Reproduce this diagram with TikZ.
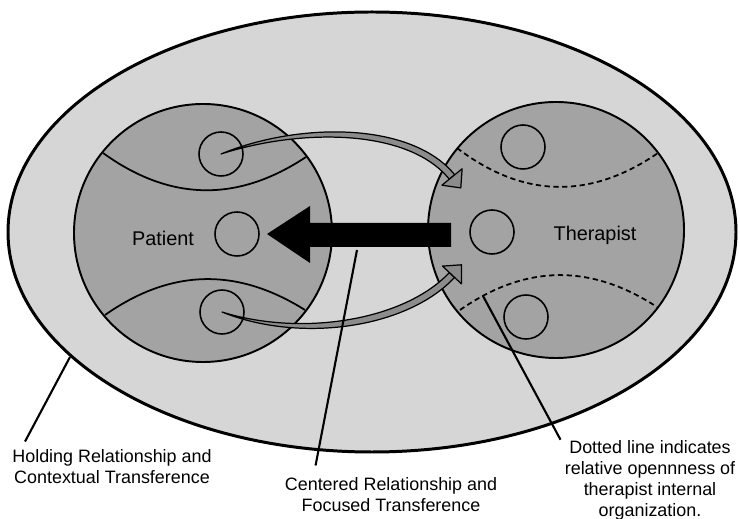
\documentclass[tikz,border=0pt]{standalone}
\usepackage{fontspec}
\setmainfont{Liberation Sans}
\usetikzlibrary{calc}
\definecolor{fieldgray}{gray}{0.84}
\definecolor{selfgray}{gray}{0.64}
\definecolor{bandgray}{gray}{0.55}

\begin{document}
\begin{tikzpicture}[x=0.02cm,y=-0.02cm,
  selfline/.style={line width=1.1pt},
  splitline/.style={line width=1pt},
  openline/.style={line width=1pt,dash pattern=on 3pt off 2pt},
  bandline/.style={fill=bandgray,line width=0.7pt,line join=round},
  pointer/.style={line width=1.2pt},
  roletext/.style={font=\fontsize{11.3}{13}\selectfont},
  notetext/.style={font=\fontsize{10.2}{12}\selectfont,align=center,inner sep=0pt}]
\useasboundingbox (0,0) rectangle (740,519);

% holding field
\filldraw[fill=fieldgray,line width=1.7pt] (372,232) ellipse [x radius=364,y radius=220];

% patient and therapist
\coordinate (pc) at (203,233);
\coordinate (tc) at (556,230);
\filldraw[fill=selfgray,selfline] (pc) circle (129);
\filldraw[fill=selfgray,selfline] (tc) circle (128);

\draw[splitline] (103,153) .. controls (171,202) and (238,202) .. (306,157);
\draw[splitline] (105,315) .. controls (172,268) and (238,268) .. (305,310);
\draw[openline] (457,148) .. controls (524,199) and (591,199) .. (658,153);
\draw[openline] (460,310) .. controls (526,264) and (591,264) .. (657,307);

\foreach \n/\x/\y in {pt/221/154, pm/237/234, pb/222/312, tt/523/147, tm/492/232, tb/526/317}
{
\coordinate (\n) at (\x,\y);
\draw[line width=0.9pt] (\n) circle (22);
}

\node[roletext] (patient) at (163,238) {Patient};
\node[roletext] (therapist) at (595,235) {Therapist};

% transference bands
\coordinate (tophead) at (452,177);
\coordinate (bothead) at (452,275);
\filldraw[bandline] (pt) .. controls (300,121.5) and (412,122) .. (454.7,174.8)
  -- (449.3,179.2) .. controls (408,128) and (300,128.5) .. (pt) -- cycle;
\filldraw[bandline] (462.1,168.8) -- (460.8,187.9) -- (441.9,185.2) -- cycle;
\filldraw[bandline] (pb) .. controls (300,336.5) and (403,321.5) .. (449.4,272.6)
  -- (454.6,277.4) .. controls (407,328.5) and (300,343.5) .. (pb) -- cycle;
\filldraw[bandline] (442.5,266.1) -- (461.6,264.8) -- (461.5,283.9) -- cycle;

% centered push
\coordinate (pushtail) at (451,235);
\coordinate (pushtip) at (267,234);
\fill (pushtail) ++(0,-12) -- (310,223) -- (310,206) -- (pushtip) -- (310,263)
  -- (310,247) -- ($(pushtail)+(0,12)$) -- cycle;

% notes
\coordinate (holdtip) at (70,357);
\coordinate (centtip) at (357,250);
\coordinate (dottip) at (483,296);

\node[notetext] (hold) at (112,467) {Holding Relationship and\\Contextual Transference};
\node[notetext] (cent) at (391,495) {Centered Relationship and\\Focused Transference};
\node[notetext] (dot) at (650,480) {Dotted line indicates\\relative opennness of\\therapist internal\\organization.};

\draw[pointer] ([shift={(13,-8)}]hold.north west) -- (holdtip);
\draw[pointer] ([shift={(31,-12)}]cent.north west) -- (centtip);
\draw[pointer] ([shift={(-4,0)}]dot.north west) -- (dottip);
\end{tikzpicture}
\end{document}
